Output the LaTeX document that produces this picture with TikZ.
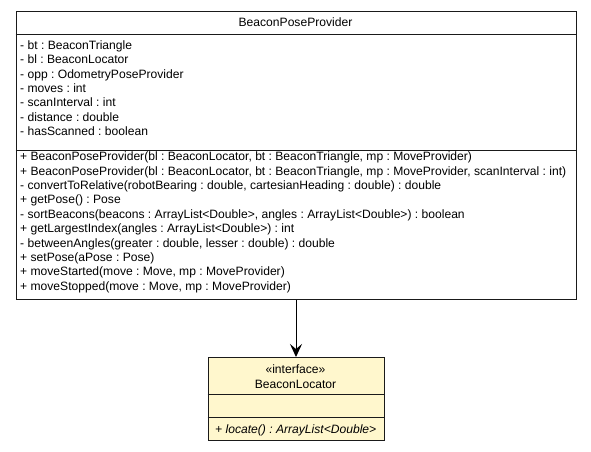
\documentclass[tikz,border=0pt]{standalone}
\usepackage{fontspec}
\setmainfont{Liberation Sans}
\usetikzlibrary{arrows.meta}
\definecolor{ifill}{HTML}{FFF7CD}
\definecolor{edge}{HTML}{1A1A1A}
\frenchspacing
\begin{document}
\begin{tikzpicture}[x=1pt,y=-1pt,
  umlbox/.style={draw=edge, line width=1pt, inner sep=0pt, anchor=north west},
  sepline/.style={draw=edge, line width=1pt},
  row/.style={anchor=base west, inner sep=0pt, font=\fontsize{12.1}{14}\selectfont},
  ctr/.style={anchor=base, inner sep=0pt, font=\fontsize{12.1}{14}\selectfont},
  dep/.style={draw=black, line width=1pt, -{Stealth[length=13pt, width=12pt, inset=5pt]}}]
\useasboundingbox (0,0) rectangle (591,451);
% main class
\node[umlbox, fill=white, minimum width=560pt, minimum height=288pt] (main) at (15.5,11) {};
\draw[sepline] (15.5,34) -- (575.5,34);
\draw[sepline] (15.5,150) -- (575.5,150);
\node[ctr] (mtitle) at (295.5,26.8) {BeaconPoseProvider};
\node[row] (a1) at (20,49.3) {- bt : BeaconTriangle};
\node[row] (a2) at (20,63.7) {- bl : BeaconLocator};
\node[row] (a3) at (20,78.1) {- opp : OdometryPoseProvider};
\node[row] (a4) at (20,92.5) {- moves : int};
\node[row] (a5) at (20,106.9) {- scanInterval : int};
\node[row] (a6) at (20,121.3) {- distance : double};
\node[row] (a7) at (20,135.7) {- hasScanned : boolean};
\node[row] (m1) at (20,160.6) {+ BeaconPoseProvider(bl : BeaconLocator, bt : BeaconTriangle, mp : MoveProvider)};
\node[row] (m2) at (20,175) {+ BeaconPoseProvider(bl : BeaconLocator, bt : BeaconTriangle, mp : MoveProvider, scanInterval : int)};
\node[row] (m3) at (20,189.4) {- convertToRelative(robotBearing : double, cartesianHeading : double) : double};
\node[row] (m4) at (20,203.8) {+ getPose() : Pose};
\node[row] (m5) at (20,218.2) {- sortBeacons(beacons : ArrayList<Double>, angles : ArrayList<Double>) : boolean};
\node[row] (m6) at (20,232.6) {+ getLargestIndex(angles : ArrayList<Double>) : int};
\node[row] (m7) at (20,247) {- betweenAngles(greater : double, lesser : double) : double};
\node[row] (m8) at (20,261.4) {+ setPose(aPose : Pose)};
\node[row] (m9) at (20,275.8) {+ moveStarted(move : Move, mp : MoveProvider)};
\node[row] (m10) at (20,290.2) {+ moveStopped(move : Move, mp : MoveProvider)};
% interface
\node[umlbox, fill=ifill, minimum width=176pt, minimum height=83pt] (iface) at (207.5,357) {};
\draw[sepline] (207.5,394) -- (383.5,394);
\draw[sepline] (207.5,417.5) -- (383.5,417.5);
\node[ctr] (stereo) at (295.5,373.3) {«interface»};
\node[ctr] (ititle) at (295.5,388.3) {BeaconLocator};
\node[row, font=\fontsize{12.1}{14}\selectfont\itshape] (loc) at (215,433.3) {+ locate() : ArrayList<Double>};
% dependency
\draw[dep] (main.south) -- (iface.north);
\end{tikzpicture}
\end{document}
